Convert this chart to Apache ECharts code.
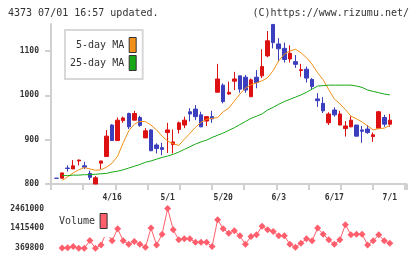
<!DOCTYPE html>
<html>
<head>
<meta charset="utf-8">
<script src="https://cdn.jsdelivr.net/npm/echarts@6/dist/echarts.min.js"></script>
<style>
html, body { margin: 0; padding: 0; background: #fff; }
#chart { width: 420px; height: 259px; }
</style>
</head>
<body>
<div id="chart"></div>
<script>
const dates = [
  '4/2', '4/3', '4/4', '4/5', '4/8', '4/9', '4/10', '4/11', '4/12', '4/15',
  '4/16', '4/17', '4/18', '4/19', '4/22', '4/23', '4/24', '4/25', '4/26', '4/30',
  '5/1', '5/7', '5/8', '5/9', '5/10', '5/13', '5/14', '5/15', '5/16', '5/17',
  '5/20', '5/21', '5/22', '5/23', '5/24', '5/27', '5/28', '5/29', '5/30', '5/31',
  '6/3', '6/4', '6/5', '6/6', '6/7', '6/10', '6/11', '6/12', '6/13', '6/14',
  '6/17', '6/18', '6/19', '6/20', '6/21', '6/24', '6/25', '6/26', '6/27', '6/28',
  '7/1'
]
const dateLabels = ['4/16', '5/1', '5/20', '6/3', '6/17', '7/1']

// [open, close, low, high]
const candles = [
  [813, 813, 813, 813], [813, 825, 813, 825], [836, 835, 828, 842], [834, 841, 834, 854],
  [852, 854, 842, 855], [841, 838, 834, 850], [824, 815, 809, 830], [800, 814, 800, 818],
  [847, 852, 834, 852], [862, 908, 862, 922], [933, 898, 897, 935], [898, 944, 898, 950],
  [943, 949, 938, 952], [959, 929, 924, 961], [944, 959, 944, 965], [950, 932, 929, 954],
  [904, 920, 904, 926], [922, 875, 875, 923], [888, 880, 869, 892], [882, 878, 865, 893],
  [916, 922, 870, 938], [889, 895, 869, 923], [923, 938, 914, 941], [933, 944, 926, 952],
  [963, 958, 941, 971], [969, 952, 944, 978], [956, 929, 928, 963], [942, 952, 931, 953],
  [952, 947, 938, 965], [1007, 1037, 1007, 1071], [1023, 986, 982, 1027], [1003, 1007, 1001, 1031],
  [1032, 1037, 1012, 1053], [1044, 1014, 1006, 1044], [1041, 1012, 1006, 1046], [997, 1035, 996, 1038],
  [1041, 1029, 1016, 1057], [1044, 1065, 1039, 1104], [1089, 1123, 1086, 1145], [1160, 1119, 1106, 1161],
  [1116, 1105, 1076, 1129], [1106, 1081, 1074, 1119], [1082, 1095, 1074, 1113], [1076, 1070, 1062, 1091],
  [1056, 1058, 1042, 1071], [1059, 1039, 1029, 1065], [1036, 1020, 1014, 1039], [992, 988, 974, 1005],
  [982, 965, 960, 996], [938, 958, 933, 962], [967, 956, 952, 973], [933, 958, 933, 965],
  [925, 931, 907, 942], [929, 944, 928, 953], [933, 908, 907, 933], [922, 919, 893, 931],
  [924, 916, 913, 933], [907, 911, 895, 916], [926, 963, 926, 965], [950, 935, 929, 956],
  [935, 944, 929, 958]
]

const ma5 = [
  null, 808, 816, 825, 832, 837, 834, 831, 832, 838,
  847, 863, 893, 920, 935, 941, 941, 933, 922, 908,
  897, 891, 887, 901, 914, 928, 939, 946, 948, 950,
  963, 971, 987, 1003, 1016, 1024, 1028, 1033, 1040, 1056,
  1078, 1093, 1100, 1104, 1096, 1085, 1070, 1051, 1035, 1013,
  992, 981, 968, 953, 947, 940, 931, 922, 925, 926,
  932
]

const ma25 = [
  null, 819, 819, 820, 820, 821, 821, 822, 823, 824,
  827, 829, 832, 836, 840, 844, 849, 852, 856, 860,
  863, 867, 872, 878, 884, 890, 895, 899, 905, 910,
  915, 921, 927, 934, 941, 948, 953, 958, 967, 973,
  980, 986, 991, 996, 1001, 1007, 1014, 1021, 1022, 1023,
  1023, 1023, 1023, 1023, 1021, 1018, 1012, 1009, 1006, 1003,
  1001
]

const volumes = [
  null, 380000, 405000, 458000, 375000, 372000, 777000, 369800, 547000, 1220000,
  760000, 1398000, 760000, 582000, 724000, 582000, 423000, 1433000, 547000, 1114000,
  2461000, 1344000, 813000, 866000, 866000, 689000, 689000, 689000, 458000, 1876000,
  1398000, 1167000, 1291000, 1025000, 582000, 990000, 1079000, 1522000, 1344000, 1256000,
  1025000, 1025000, 582000, 423000, 636000, 866000, 760000, 1433000, 1114000, 813000,
  582000, 813000, 1610000, 1079000, 1114000, 1114000, 547000, 760000, 1079000, 760000,
  636000
]

const priceTicks = [800, 900, 1000, 1100]
const volumeTicks = [369800, 1415400, 2461000]

const mono = 'DejaVu Sans Mono'
const gray = '#d0d0d0'
const plotW = 355.5
const tickStep = 32.18

// one empty slot before the first day and three after the last
const cats = [''].concat(dates, ['', '', ''])
const pad = a => ['-'].concat(a.map(v => v === null ? '-' : v))

const chart = echarts.init(document.getElementById('chart'))
chart.setOption({
  animation: false,
  title: [
    {
      text: '4373 07/01 16:57 updated.',
      left: 3, top: 3,
      textStyle: { fontFamily: mono, fontSize: 10, fontWeight: 'normal', color: '#333' }
    },
    {
      text: '(C)https://www.rizumu.net/',
      right: 6, top: 3,
      textStyle: { fontFamily: mono, fontSize: 10, fontWeight: 'normal', color: '#333' }
    }
  ],
  legend: [
    {
      data: ['5-day MA', '25-day MA'],
      orient: 'vertical',
      left: 65, top: 30,
      padding: [7, 6, 8, 5],
      itemWidth: 7, itemHeight: 15, itemGap: 2,
      align: 'right',
      icon: 'rect',
      selectedMode: false,
      backgroundColor: '#fff',
      borderColor: '#d8d8d8',
      borderWidth: 2,
      itemStyle: { borderColor: '#333', borderWidth: 1 },
      formatter: name => name.padStart(9),
      textStyle: { fontFamily: mono, fontSize: 10, color: '#333' }
    },
    {
      data: ['Volume'],
      left: 57, top: 211,
      padding: [2, 3, 8, 2],
      itemWidth: 7, itemHeight: 15,
      align: 'right',
      icon: 'rect',
      selectedMode: false,
      backgroundColor: '#fff',
      itemStyle: { borderColor: '#333', borderWidth: 1 },
      textStyle: { fontFamily: mono, fontSize: 10, color: '#333' }
    }
  ],
  grid: [
    { left: 51, top: 24, width: plotW, height: 160 },
    { left: 51, top: 208.5, width: plotW, height: 39.8 }
  ],
  xAxis: [
    {
      type: 'category',
      gridIndex: 0,
      data: cats,
      boundaryGap: false,
      axisLine: { lineStyle: { color: gray, width: 2 } },
      axisTick: { show: false },
      splitLine: { show: false },
      axisLabel: {
        interval: (i, v) => dateLabels.includes(v),
        margin: 10,
        fontFamily: mono, fontSize: 8, fontWeight: 'bold', color: '#333'
      }
    },
    {
      // weekly tick marks under the price panel
      type: 'value',
      gridIndex: 0,
      position: 'bottom',
      min: 0,
      max: plotW / tickStep,
      interval: 1,
      axisLine: { show: false },
      axisTick: { show: true, length: 6, lineStyle: { color: gray, width: 2 } },
      axisLabel: { show: false },
      splitLine: { show: false }
    },
    {
      type: 'category',
      gridIndex: 1,
      data: cats,
      boundaryGap: false,
      show: false
    }
  ],
  yAxis: [
    {
      type: 'value',
      gridIndex: 0,
      min: 800,
      max: 1161,
      axisLine: { show: true, lineStyle: { color: gray, width: 2 } },
      axisTick: { show: true, length: 6, customValues: priceTicks, lineStyle: { color: gray, width: 2 } },
      splitLine: { show: false },
      axisLabel: {
        customValues: priceTicks,
        formatter: v => String(v),
        margin: 12,
        fontFamily: mono, fontSize: 8, fontWeight: 'bold', color: '#333'
      }
    },
    {
      type: 'value',
      gridIndex: 1,
      min: 369800,
      max: 2461000,
      axisLine: { show: false },
      axisTick: { show: false },
      splitLine: { show: false },
      axisLabel: {
        customValues: volumeTicks,
        formatter: v => String(v),
        margin: 7,
        fontFamily: mono, fontSize: 8, fontWeight: 'bold', color: '#333'
      }
    }
  ],
  series: [
    {
      name: 'price',
      type: 'candlestick',
      xAxisIndex: 0,
      yAxisIndex: 0,
      barWidth: 4,
      data: pad(candles),
      itemStyle: {
        color: '#dd1111',
        color0: '#3b3fbe',
        borderColor: '#dd1111',
        borderColor0: '#3b3fbe',
        borderWidth: 1
      }
    },
    {
      name: '5-day MA',
      type: 'line',
      xAxisIndex: 0,
      yAxisIndex: 0,
      data: pad(ma5),
      symbol: 'none',
      lineStyle: { color: '#f39018', width: 1 },
      itemStyle: { color: '#f39018' }
    },
    {
      name: '25-day MA',
      type: 'line',
      xAxisIndex: 0,
      yAxisIndex: 0,
      data: pad(ma25),
      symbol: 'none',
      lineStyle: { color: '#17a817', width: 1 },
      itemStyle: { color: '#17a817' }
    },
    {
      name: 'Volume',
      type: 'line',
      xAxisIndex: 2,
      yAxisIndex: 1,
      data: pad(volumes),
      symbol: 'diamond',
      symbolSize: 7,
      showAllSymbol: true,
      lineStyle: { color: '#ff5f6d', width: 1 },
      itemStyle: { color: '#ff5f6d' }
    }
  ]
})
</script>
</body>
</html>
